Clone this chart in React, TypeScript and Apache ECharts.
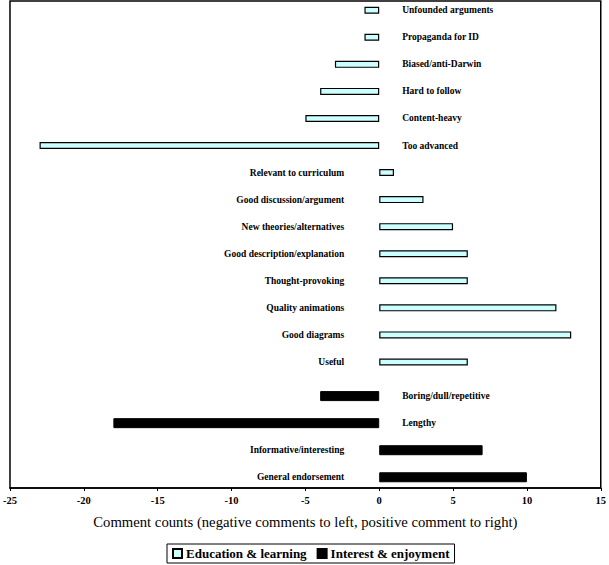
import React, { useEffect, useRef } from "react";
import * as echarts from "echarts";

const categories = [
  "Unfounded arguments",
  "Propaganda for ID",
  "Biased/anti-Darwin",
  "Hard to follow",
  "Content-heavy",
  "Too advanced",
  "Relevant to curriculum",
  "Good discussion/argument",
  "New theories/alternatives",
  "Good description/explanation",
  "Thought-provoking",
  "Quality animations",
  "Good diagrams",
  "Useful",
  "Boring/dull/repetitive",
  "Lengthy",
  "Informative/interesting",
  "General endorsement",
];

const educationValues: (number | null)[] = [
  -1, -1, -3, -4, -5, -23, 1, 3, 5, 6, 6, 12, 13, 6, null, null, null, null,
];
const interestValues: (number | null)[] = [
  null, null, null, null, null, null, null, null, null, null, null, null, null, null, -4, -18, 7, 10,
];

const xTicks = { min: -25, max: 15, interval: 5 };
const seriesNames = ["Education & learning", "Interest & enjoyment"];

const FONT = "'Liberation Serif', 'Times New Roman', serif";

function makeData(values: (number | null)[]) {
  return values.map((v, i) => {
    if (v === null) return "-";
    const pos = v >= 0;
    return {
      value: v,
      label: {
        show: true,
        position: pos ? "left" : "right",
        distance: pos ? 35 : 23,
        formatter: categories[i],
        fontFamily: FONT,
        fontSize: 9.5,
        fontWeight: "bold",
        color: "#000",
      },
    };
  });
}

export default function App() {
  const ref = useRef<HTMLDivElement>(null);
  useEffect(() => {
    document.body.style.margin = "0";
    const chart = echarts.init(ref.current!, null, { renderer: "svg" });
    chart.setOption({
      animation: false,
      backgroundColor: "#fff",
      grid: {
        left: 7,
        right: 5,
        top: 1,
        bottom: 77,
        show: true,
        borderColor: "#000",
        borderWidth: 1.5,
        backgroundColor: "transparent",
      },
      legend: {
        data: seriesNames,
        bottom: 2,
        left: 167,
        itemWidth: 9,
        itemHeight: 9,
        itemGap: 10,
        padding: [3, 5, 3, 5],
        borderColor: "#000",
        borderWidth: 1,
        icon: "rect",
        textStyle: {
          fontFamily: FONT,
          fontSize: 13,
          fontWeight: "bold",
          color: "#000",
          padding: [0, 0, 0, -1],
        },
      },
      xAxis: {
        type: "value",
        min: xTicks.min,
        max: xTicks.max,
        interval: xTicks.interval,
        name: "Comment counts (negative comments to left, positive comment to right)",
        nameLocation: "middle",
        nameGap: 26,
        nameTextStyle: { fontFamily: FONT, fontSize: 14.7, color: "#000" },
        axisLine: { show: true, onZero: false, lineStyle: { color: "#000", width: 1.5 } },
        axisTick: { show: true, length: 3, lineStyle: { color: "#000" } },
        axisLabel: {
          fontFamily: FONT,
          fontSize: 10.5,
          fontWeight: "bold",
          color: "#000",
          margin: 7,
        },
        splitLine: { show: false },
      },
      yAxis: {
        type: "category",
        data: categories,
        inverse: true,
        axisLine: { show: false },
        axisTick: { show: false },
        axisLabel: { show: false },
        splitLine: { show: false },
      },
      series: [
        {
          name: seriesNames[0],
          type: "bar",
          barWidth: 7,
          barGap: "-20%",
          data: makeData(educationValues),
          itemStyle: { color: "#CCFFFF", borderColor: "#000", borderWidth: 1.2 },
        },
        {
          name: seriesNames[1],
          type: "bar",
          barWidth: 10,
          barGap: "-20%",
          data: makeData(interestValues),
          itemStyle: { color: "#000", borderColor: "#000", borderWidth: 1 },
        },
      ],
    });
    return () => chart.dispose();
  }, []);
  return <div ref={ref} style={{ width: 609, height: 565 }} />;
}
